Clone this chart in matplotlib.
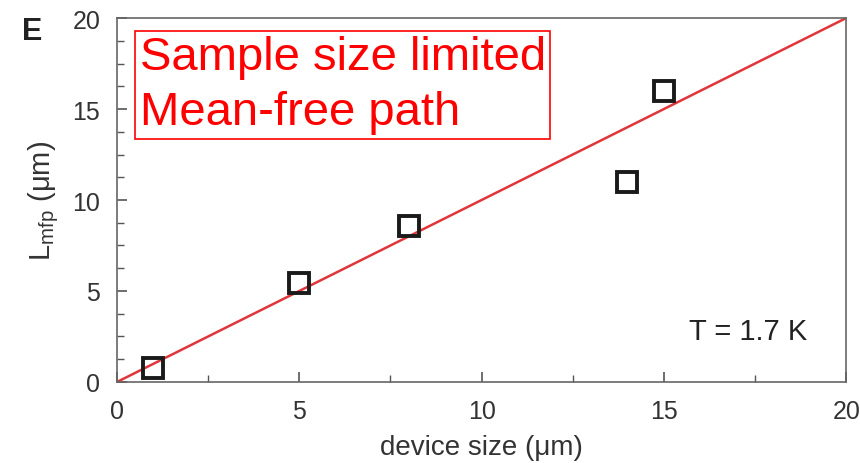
import matplotlib.pyplot as plt
from matplotlib.ticker import MultipleLocator

plt.rcParams['font.family'] = ['Liberation Sans', 'DejaVu Sans']

device_size = [1, 5, 8, 14, 15]
l_mfp = [0.75, 5.45, 8.55, 11.0, 16.0]
fit_x = [0, 20]
fit_y = [0, 20]

fig = plt.figure(figsize=(8.6, 4.64), dpi=100)
ax = fig.add_axes([0.136, 0.1746, 0.848, 0.7844])

ax.plot(fit_x, fit_y, color="#e0353b", linewidth=1.8, zorder=2)
ax.plot(device_size, l_mfp, linestyle="none", marker="s", markersize=14,
        markerfacecolor="none", markeredgecolor="#1a1a1a", markeredgewidth=2.8, zorder=3)

ax.set_xlim(0, 20)
ax.set_ylim(0, 20)
ax.xaxis.set_major_locator(MultipleLocator(5))
ax.xaxis.set_minor_locator(MultipleLocator(2.5))
ax.yaxis.set_major_locator(MultipleLocator(5))
ax.yaxis.set_minor_locator(MultipleLocator(1.25))
ax.tick_params(which="both", direction="in", colors="#555555", labelcolor="#333333",
               labelsize=18, top=False, right=False)
ax.tick_params(which="major", length=7, width=1.2, pad=12)
ax.tick_params(which="minor", length=5, width=1.0)
for s in ax.spines.values():
    s.set_color("#666666")
    s.set_linewidth(1.2)

ax.set_xlabel("device size (μm)", fontsize=20, color="#333333", labelpad=8)
ax.set_ylabel(r"L$_{\mathregular{mfp}}$ (μm)", fontsize=21, color="#333333", labelpad=8)

ax.text(0.947, 0.14, "T = 1.7 K", transform=ax.transAxes, fontsize=21,
        color="#222222", ha="right", va="center")
ax.text(0.031, 0.952, "Sample size limited\nMean-free path", transform=ax.transAxes,
        fontsize=34, color="red", ha="left", va="top", linespacing=1.32,
        bbox=dict(boxstyle="square,pad=0.1", facecolor="white", edgecolor="red", linewidth=1.2))
fig.text(0.025, 0.93, "E", fontsize=22, fontweight="bold", color="#222222", ha="left", va="center")

fig.savefig("out.png", dpi=100)
